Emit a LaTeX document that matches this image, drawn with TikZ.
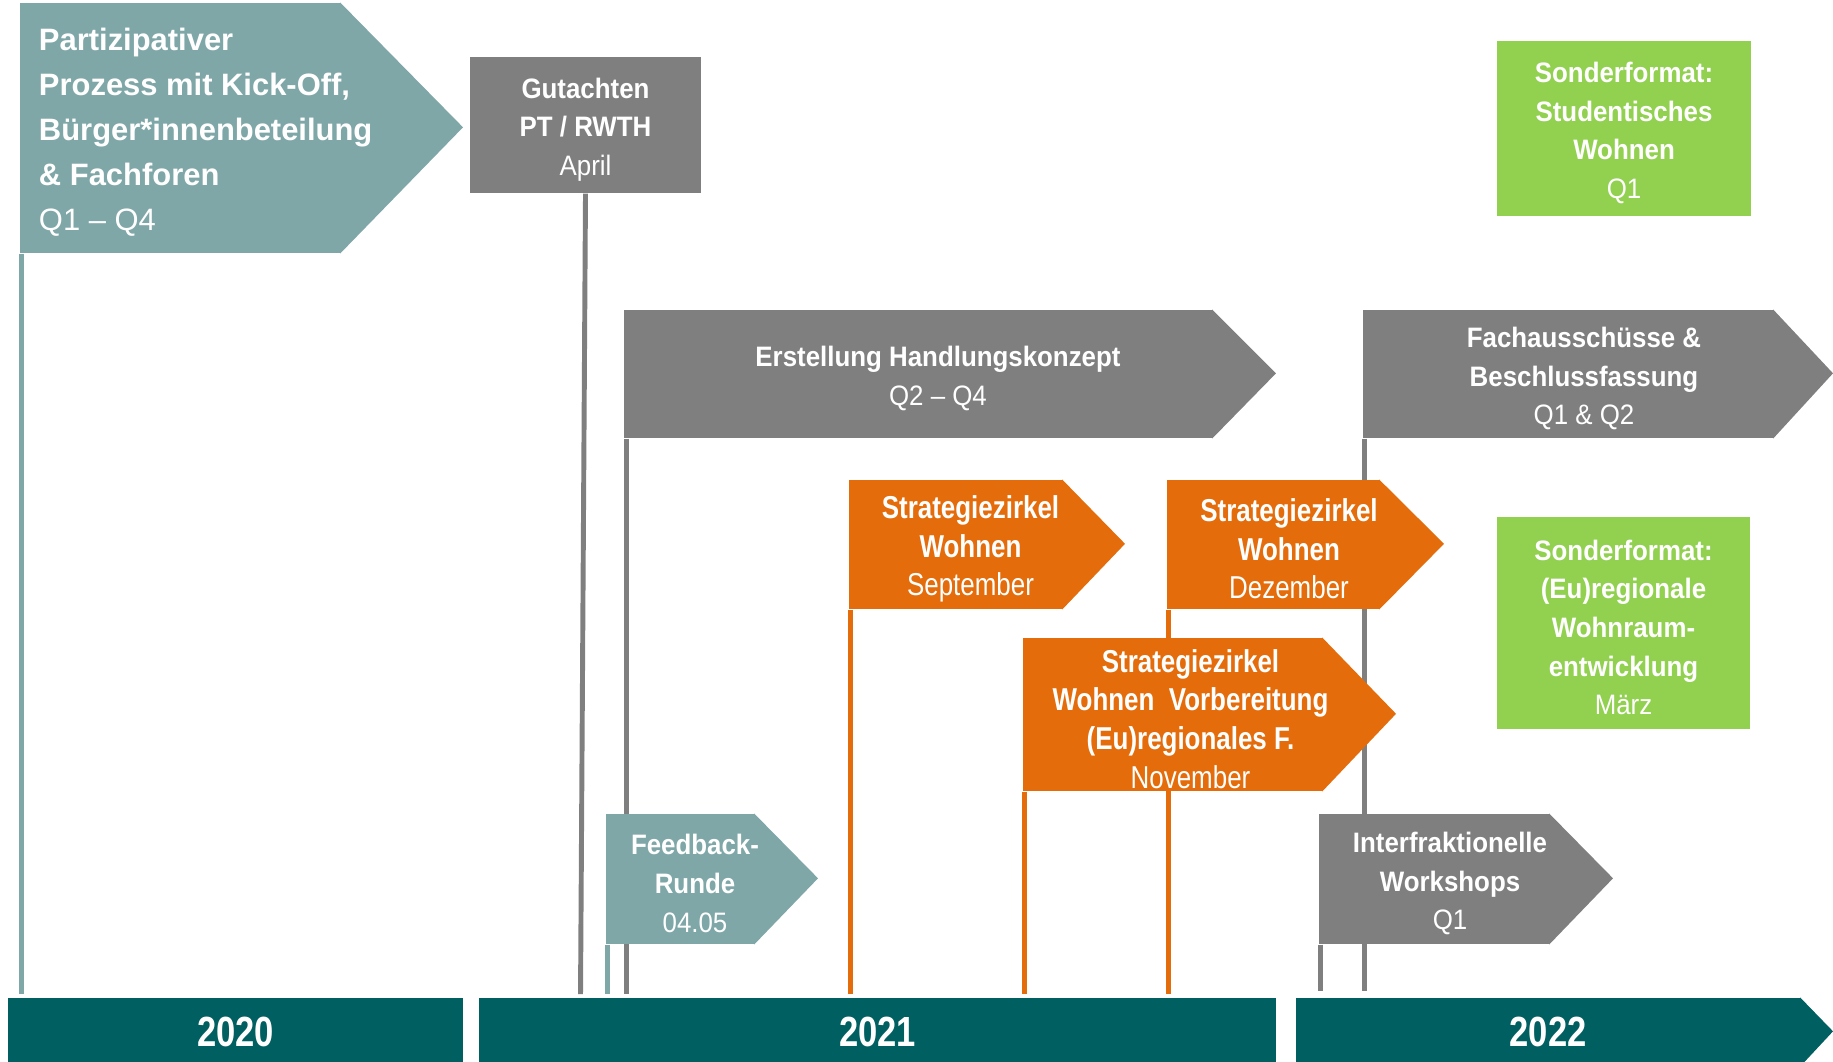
\documentclass[tikz,border=0pt]{standalone}
\usepackage{fontspec}
\setmainfont{Liberation Sans}
\newfontfamily\condfont{Liberation Sans}[FakeStretch=0.92]
\newfontfamily\narrfont{Liberation Sans}[FakeStretch=0.82]
\usetikzlibrary{positioning}
\definecolor{teallight}{HTML}{7FA7A8}
\definecolor{greybox}{HTML}{7F7F7F}
\definecolor{orangebox}{HTML}{E46C0A}
\definecolor{greenbox}{HTML}{92D050}
\definecolor{tealdark}{HTML}{005F60}
\pgfdeclarelayer{back}
\pgfsetlayers{back,main}
\tikzset{
        evbox/.style={rectangle, inner sep=0pt, text=white, align=center}, % filled body of an event
        txt/.style={inner sep=0pt, text=white, align=center, yshift=-0.045cm}, % text lying on a body
        stemline/.style={line width=1.4pt, shorten >=0.9pt}, % vertical line down to the year bar
        yearbar/.style={evbox, fill=tealdark, minimum height=0.68cm, font=\narrfont\bfseries\fontsize{12}{14}\selectfont},
        evfont/.style={font=\condfont\bfseries\fontsize{8}{11}\selectfont},
        szfont/.style={font=\narrfont\bfseries\fontsize{9}{11}\selectfont}, % orange boxes
    }

\begin{document}
\begin{tikzpicture}[x=1cm, y=-1cm]
    \useasboundingbox (0,0) rectangle (18.33,10.61);
    % year bars
    \node[yearbar, minimum width=4.55cm] (y20) at (2.355,10.32) {2020};
    \node[yearbar, minimum width=7.97cm] (y21) at (8.775,10.32) {2021};
    \node[yearbar, minimum width=5.04cm] (y22) at (15.48,10.32) {2022};
    \fill[tealdark] ([xshift=-0.2pt]y22.north east) -- ++(0.33,0.34) -- ([xshift=-0.2pt]y22.south east) -- cycle;

    % 2020
    \node[evbox, fill=teallight, minimum width=3.20cm, minimum height=2.50cm] (part) at (1.80,1.28) {};
    \fill[teallight] ([xshift=-0.2pt]part.north east) -- ++(1.23,1.25) -- ([xshift=-0.2pt]part.south east) -- cycle;
    \node[txt, align=left, font=\bfseries\fontsize{8.8}{12.8}\selectfont, right=0.19cm of part.west] (part-t)
        {Partizipativer\\Prozess mit Kick-Off,\\Bürger*innenbeteilung\\\& Fachforen\\\mdseries Q1 – Q4};

    % 2021
    \node[evbox, fill=greybox, minimum width=2.31cm, minimum height=1.36cm] (guta) at (5.855,1.25) {};
    \node[txt, evfont] (guta-t) at (guta.center) {Gutachten\\PT / RWTH\\\mdseries April};

    \node[evbox, fill=greybox, minimum width=5.88cm, minimum height=1.28cm] (erst) at (9.18,3.74) {};
    \fill[greybox] ([xshift=-0.2pt]erst.north east) -- ++(0.64,0.64) -- ([xshift=-0.2pt]erst.south east) -- cycle;
    \node[txt, evfont] (erst-t) at ([xshift=0.2cm]erst.center) {Erstellung Handlungskonzept\\\mdseries Q2 – Q4};

    \node[evbox, fill=teallight, minimum width=1.48cm, minimum height=1.30cm] (feed) at (6.80,8.79) {};
    \fill[teallight] ([xshift=-0.2pt]feed.north east) -- ++(0.64,0.65) -- ([xshift=-0.2pt]feed.south east) -- cycle;
    \node[txt, evfont] (feed-t) at ([xshift=0.15cm]feed.center) {Feedback-\\Runde\\\mdseries 04.05};

    \node[evbox, fill=orangebox, minimum width=2.13cm, minimum height=1.29cm] (sept) at (9.555,5.445) {};
    \fill[orangebox] ([xshift=-0.2pt]sept.north east) -- ++(0.63,0.645) -- ([xshift=-0.2pt]sept.south east) -- cycle;
    \node[txt, szfont] (sept-t) at ([xshift=0.15cm]sept.center) {Strategiezirkel\\Wohnen\\\mdseries September};

    \node[evbox, fill=orangebox, minimum width=2.12cm, minimum height=1.29cm] (dez) at (12.73,5.445) {};
    \fill[orangebox] ([xshift=-0.2pt]dez.north east) -- ++(0.65,0.645) -- ([xshift=-0.2pt]dez.south east) -- cycle;
    \node[txt, szfont] (dez-t) at ([xshift=0.16cm]dez.center) {Strategiezirkel\\Wohnen\\\mdseries Dezember};

    \node[evbox, fill=orangebox, minimum width=2.99cm, minimum height=1.53cm] (nov) at (11.725,7.145) {};
    \fill[orangebox] ([xshift=-0.2pt]nov.north east) -- ++(0.74,0.765) -- ([xshift=-0.2pt]nov.south east) -- cycle;
    \node[txt, szfont] (nov-t) at ([xshift=0.18cm]nov.center)
        {Strategiezirkel\\Wohnen~ Vorbereitung\\(Eu)regionales F.\\\mdseries November};

    % 2022
    \node[evbox, fill=greybox, minimum width=4.10cm, minimum height=1.28cm] (fach) at (15.68,3.74) {};
    \fill[greybox] ([xshift=-0.2pt]fach.north east) -- ++(0.60,0.64) -- ([xshift=-0.2pt]fach.south east) -- cycle;
    \node[txt, evfont] (fach-t) at ([xshift=0.16cm]fach.center)
        {Fachausschüsse \&\\Beschlussfassung\\\mdseries Q1 \& Q2};

    \node[evbox, fill=greybox, minimum width=2.30cm, minimum height=1.30cm] (inter) at (14.34,8.79) {};
    \fill[greybox] ([xshift=-0.2pt]inter.north east) -- ++(0.64,0.65) -- ([xshift=-0.2pt]inter.south east) -- cycle;
    \node[txt, evfont] (inter-t) at ([xshift=0.16cm]inter.center) {Interfraktionelle\\Workshops\\\mdseries Q1};

    \node[evbox, fill=greenbox, minimum width=2.54cm, minimum height=1.75cm] (stud) at (16.24,1.285) {};
    \node[txt, evfont] (stud-t) at (stud.center) {Sonderformat:\\Studentisches\\Wohnen\\\mdseries Q1};
    \node[evbox, fill=greenbox, minimum width=2.53cm, minimum height=2.12cm] (euro) at (16.235,6.23) {};
    \node[txt, evfont] (euro-t) at (euro.center) {Sonderformat:\\(Eu)regionale\\Wohnraum-\\entwicklung\\\mdseries März};

    % stems behind the boxes
    \begin{pgfonlayer}{back}
    \draw[stemline, teallight] ([xshift=0.7pt]part.south west) -- ([xshift=0.7pt]part.south west |- y20.north);
    \draw[stemline, greybox] (guta.south) -- ([xshift=-0.05cm]guta.south |- y21.north);
    \draw[stemline, greybox] ([xshift=0.9pt]erst.south west) -- ([xshift=0.9pt]erst.south west |- y21.north);
    \draw[stemline, teallight] ([xshift=0.7pt]feed.south west) -- ([xshift=0.7pt]feed.south west |- y21.north);
    \draw[stemline, orangebox] ([xshift=0.7pt]sept.south west) -- ([xshift=0.7pt]sept.south west |- y21.north);
    \draw[stemline, orangebox] ([xshift=0.7pt]nov.south west) -- ([xshift=0.7pt]nov.south west |- y21.north);
    \draw[stemline, orangebox] ([xshift=0.7pt]dez.south west) -- ([xshift=0.7pt]dez.south west |- y21.north);
    \draw[stemline, greybox, shorten >=1.7pt] ([xshift=0.7pt]inter.south west) -- ([xshift=0.7pt]inter.south west |- y22.north);
    \draw[stemline, greybox, shorten >=1.7pt] ([xshift=0.7pt]fach.south west) -- ([xshift=0.7pt]fach.south west |- y22.north);
    \end{pgfonlayer}
\end{tikzpicture}
\end{document}
